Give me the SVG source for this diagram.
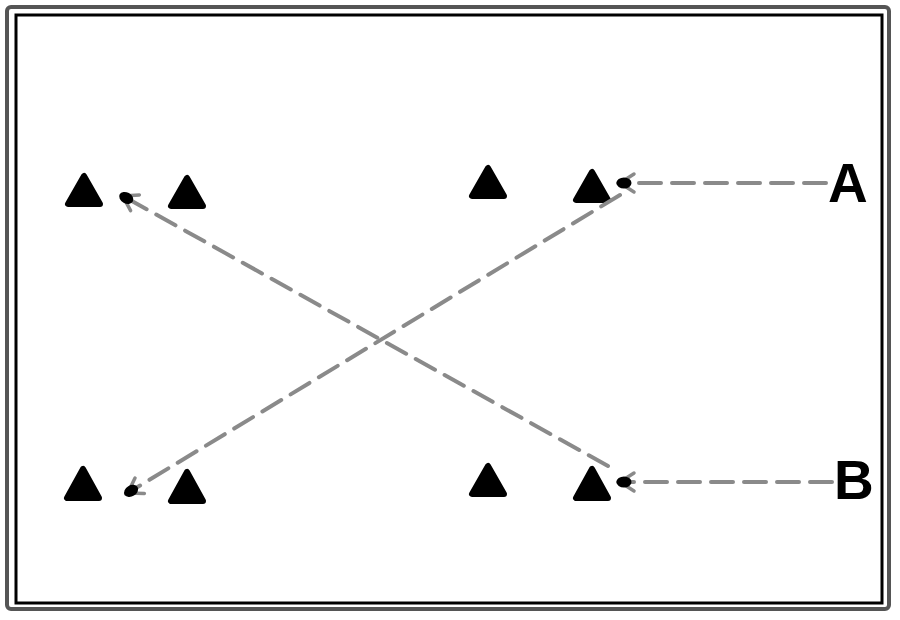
<svg xmlns="http://www.w3.org/2000/svg" width="900" height="620" viewBox="0 0 900 620">
  <style>
    .cone { fill:#000; stroke:#000; stroke-width:6; stroke-linejoin:round; }
    .conn { fill:none; stroke:#8a8a8a; stroke-width:4; stroke-dasharray:22 11; stroke-linecap:round; }
    .lbl { font-family:"Liberation Sans", Arial, sans-serif; font-weight:bold; font-size:55px; fill:#000; }
  </style>
  <defs>
    <marker id="ah" markerUnits="userSpaceOnUse" markerWidth="30" markerHeight="26" refX="22" refY="13" orient="auto" overflow="visible">
      <path d="M20,13 L6,4 M20,13 L6,22" stroke="#8a8a8a" stroke-width="3.5" fill="none" stroke-linecap="round"/>
      <ellipse cx="16" cy="13" rx="7.5" ry="5.5" fill="#000"/>
    </marker>
  </defs>
  <rect x="0" y="0" width="900" height="620" fill="#fff"/>
  <g id="frame">
    <rect x="7" y="7" width="882" height="602" rx="4" fill="none" stroke="#555" stroke-width="4"/>
    <rect x="16" y="15" width="866" height="588" fill="none" stroke="#000" stroke-width="3"/>
  </g>
  <g id="cone-tl1"><polygon class="cone" points="84,176 68,204 100,204"/></g>
  <g id="cone-tl2"><polygon class="cone" points="187,178 171,206 203,206"/></g>
  <g id="cone-tr1"><polygon class="cone" points="488,168 472,196 504,196"/></g>
  <g id="cone-tr2"><polygon class="cone" points="592,172 576,200 608,200"/></g>
  <g id="cone-bl1"><polygon class="cone" points="83,469 67,498 99,498"/></g>
  <g id="cone-bl2"><polygon class="cone" points="187,472 171,501 203,501"/></g>
  <g id="cone-br1"><polygon class="cone" points="488,466 472,494 504,494"/></g>
  <g id="cone-br2"><polygon class="cone" points="592,469 576,498 608,498"/></g>
  <g id="label-A"><text class="lbl" x="828" y="202">A</text></g>
  <g id="label-B"><text class="lbl" x="834" y="499">B</text></g>
  <g id="connectors">
    <line class="conn" x1="826" y1="183" x2="618" y2="183" marker-end="url(#ah)"/>
    <line class="conn" x1="832" y1="482" x2="618" y2="482" marker-end="url(#ah)"/>
    <line class="conn" x1="608" y1="466" x2="121" y2="195" marker-end="url(#ah)"/>
    <line class="conn" x1="620" y1="195" x2="126" y2="494" marker-end="url(#ah)"/>
  </g>
</svg>
